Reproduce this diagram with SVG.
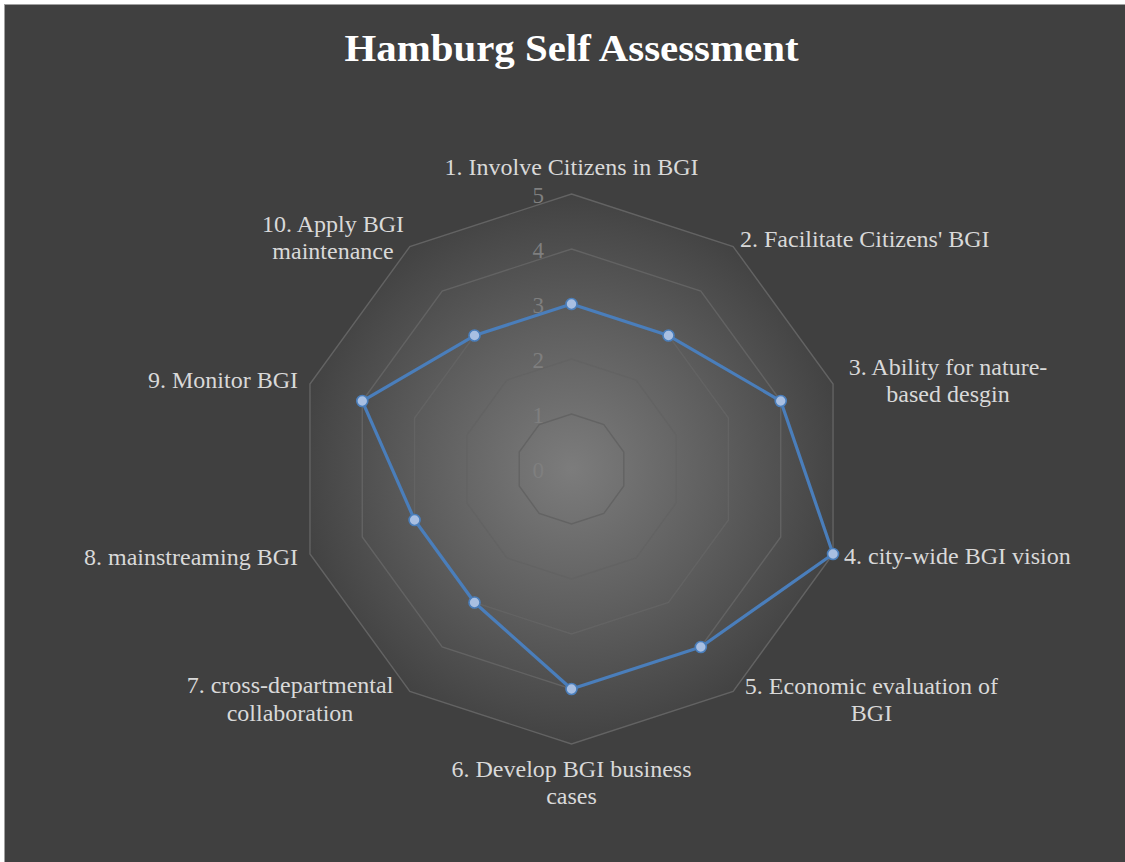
<svg xmlns="http://www.w3.org/2000/svg" width="1125" height="862" viewBox="0 0 1125 862">
<defs>
<radialGradient id="glow" cx="571.5" cy="469" r="285" gradientUnits="userSpaceOnUse">
<stop offset="0" stop-color="#7c7c7c"/>
<stop offset="0.5" stop-color="#5f5f5f"/>
<stop offset="1" stop-color="#404040"/>
</radialGradient>
<style>
.grid{fill:none;stroke:#636363;stroke-width:1.4}
.lbl{font-family:"Liberation Serif",serif;font-size:24px;fill:#d9d9d9}
.tick{font-family:"Liberation Serif",serif;font-size:23px;fill:#7f7f7f;text-anchor:end}
.series{fill:none;stroke:#4a7ebb;stroke-width:3.2;stroke-linejoin:round}
.pt{fill:#a8bfe2;stroke:#4a7ebb;stroke-width:1.6}
</style>
</defs>
<rect x="0" y="0" width="1125" height="862" fill="#ffffff"/>
<rect x="4.5" y="4.5" width="1125" height="862" fill="#404040" stroke="#a0a0a0" stroke-width="1"/>
<polygon points="571.5,194 733.14,246.52 833.04,384.02 833.04,553.98 733.14,691.48 571.5,744 409.86,691.48 309.96,553.98 309.96,384.02 409.86,246.52" fill="url(#glow)"/>
<text x="571.5" y="61" font-family="Liberation Serif,serif" font-weight="bold" font-size="37" fill="#ffffff" text-anchor="middle" textLength="454" lengthAdjust="spacingAndGlyphs">Hamburg Self Assessment</text>
<g id="grid">
<polygon class="grid" points="571.5,414 603.83,424.5 623.81,452 623.81,486 603.83,513.5 571.5,524 539.17,513.5 519.19,486 519.19,452 539.17,424.5"/>
<polygon class="grid" points="571.5,359 636.16,380.01 676.12,435.01 676.12,502.99 636.16,557.99 571.5,579 506.84,557.99 466.88,502.99 466.88,435.01 506.84,380.01"/>
<polygon class="grid" points="571.5,304 668.49,335.51 728.42,418.01 728.42,519.99 668.49,602.49 571.5,634 474.51,602.49 414.58,519.99 414.58,418.01 474.51,335.51"/>
<polygon class="grid" points="571.5,249 700.81,291.02 780.73,401.02 780.73,536.98 700.81,646.98 571.5,689 442.19,646.98 362.27,536.98 362.27,401.02 442.19,291.02"/>
<polygon class="grid" points="571.5,194 733.14,246.52 833.04,384.02 833.04,553.98 733.14,691.48 571.5,744 409.86,691.48 309.96,553.98 309.96,384.02 409.86,246.52"/>
</g>
<g id="ticks">
<text class="tick" x="544" y="478">0</text>
<text class="tick" x="544" y="423">1</text>
<text class="tick" x="544" y="368">2</text>
<text class="tick" x="544" y="313">3</text>
<text class="tick" x="544" y="258">4</text>
<text class="tick" x="544" y="203">5</text>
</g>
<g id="connectors">
<polygon class="series" points="571.5,304 668.49,335.51 780.73,401.02 833.04,553.98 700.81,646.98 571.5,689 474.51,602.49 414.58,519.99 362.27,401.02 474.51,335.51"/>
</g>
<g id="points">
<circle class="pt" cx="571.5" cy="304" r="5.5"/>
<circle class="pt" cx="668.49" cy="335.51" r="5.5"/>
<circle class="pt" cx="780.73" cy="401.02" r="5.5"/>
<circle class="pt" cx="833.04" cy="553.98" r="5.5"/>
<circle class="pt" cx="700.81" cy="646.98" r="5.5"/>
<circle class="pt" cx="571.5" cy="689" r="5.5"/>
<circle class="pt" cx="474.51" cy="602.49" r="5.5"/>
<circle class="pt" cx="414.58" cy="519.99" r="5.5"/>
<circle class="pt" cx="362.27" cy="401.02" r="5.5"/>
<circle class="pt" cx="474.51" cy="335.51" r="5.5"/>
</g>
<g id="axis1"><text class="lbl" x="571.5" y="175" text-anchor="middle">1. Involve Citizens in BGI</text></g>
<g id="axis2"><text class="lbl" x="740" y="247">2. Facilitate Citizens' BGI</text></g>
<g id="axis3"><text class="lbl" x="948" y="375" text-anchor="middle">3. Ability for nature-</text><text class="lbl" x="948" y="402" text-anchor="middle">based desgin</text></g>
<g id="axis4"><text class="lbl" x="844" y="564">4. city-wide BGI vision</text></g>
<g id="axis5"><text class="lbl" x="871.5" y="694" text-anchor="middle">5. Economic evaluation of</text><text class="lbl" x="871.5" y="721" text-anchor="middle">BGI</text></g>
<g id="axis6"><text class="lbl" x="571.5" y="777" text-anchor="middle">6. Develop BGI business</text><text class="lbl" x="571.5" y="804" text-anchor="middle">cases</text></g>
<g id="axis7"><text class="lbl" x="290" y="693" text-anchor="middle">7. cross-departmental</text><text class="lbl" x="290" y="721" text-anchor="middle">collaboration</text></g>
<g id="axis8"><text class="lbl" x="298" y="565" text-anchor="end">8. mainstreaming BGI</text></g>
<g id="axis9"><text class="lbl" x="298" y="388" text-anchor="end">9. Monitor BGI</text></g>
<g id="axis10"><text class="lbl" x="333" y="232" text-anchor="middle">10. Apply BGI</text><text class="lbl" x="333" y="259" text-anchor="middle">maintenance</text></g>
</svg>
